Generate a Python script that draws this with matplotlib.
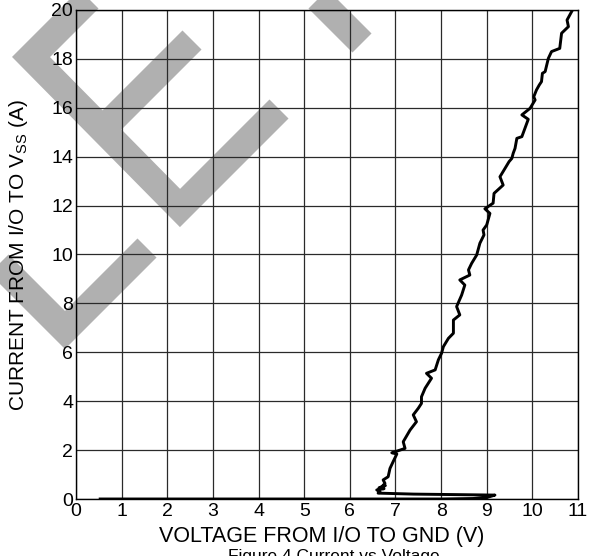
import matplotlib
matplotlib.use("Agg")
import matplotlib.pyplot as plt
from matplotlib.lines import Line2D

plt.rcParams['font.family'] = ['Liberation Sans', 'DejaVu Sans']

# I/O to GND voltage (V) vs current into Vss (A)
volts = [0.53, 3.0, 6.0, 8.0, 8.7, 9.0, 9.18, 8.3, 7.4, 6.62,
         6.66, 6.59, 6.75, 6.64, 6.78, 6.70, 6.77, 6.73, 6.84, 6.88,
         6.95, 7.03, 6.92, 7.10, 7.21, 7.17, 7.32, 7.46, 7.39, 7.50,
         7.57, 7.57, 7.65, 7.79, 7.68, 7.87, 7.94, 8.01, 8.05, 8.16,
         8.27, 8.27, 8.41, 8.34, 8.45, 8.52, 8.41, 8.63, 8.60, 8.67,
         8.78, 8.85, 8.94, 8.92, 9.00, 9.07, 8.96, 9.14, 9.16, 9.36,
         9.29, 9.40, 9.49, 9.55, 9.58, 9.62, 9.66, 9.77, 9.91, 9.77,
         9.95, 10.06, 10.03, 10.09, 10.15, 10.20, 10.22, 10.28, 10.35, 10.42,
         10.60, 10.64, 10.79, 10.76, 10.90]
amps = [0.0, 0.0, 0.0, 0.0, 0.02, 0.06, 0.16, 0.18, 0.2, 0.24,
        0.30, 0.37, 0.42, 0.46, 0.55, 0.50, 0.64, 0.78, 0.91, 1.25,
        1.53, 1.84, 1.89, 2.00, 2.07, 2.34, 2.82, 3.16, 3.44, 3.71,
        3.91, 4.18, 4.53, 4.94, 5.14, 5.28, 5.69, 5.96, 6.23, 6.57,
        6.78, 7.32, 7.53, 7.87, 8.34, 8.75, 8.96, 9.16, 9.37, 9.64,
        9.98, 10.46, 10.80, 11.00, 11.21, 11.68, 11.87, 12.10, 12.50, 12.84,
        13.18, 13.52, 13.80, 13.93, 14.14, 14.34, 14.75, 14.82, 15.53, 15.71,
        15.98, 16.32, 16.45, 16.73, 16.93, 17.07, 17.41, 17.48, 18.02, 18.30,
        18.43, 19.05, 19.32, 19.59, 20.07]

xticks = list(range(0, 12))
yticks = list(range(0, 21, 2))

W, H = 593, 556
fig = plt.figure(figsize=(W / 100, H / 100), dpi=100)

# grey watermark strokes (figure pixel coords, y from top)
wm = [
    [(101, -13), (31, 57), (180, 208), (279, 109)],
    [(102, 130), (192, 40)],
    [(300, -19), (362, 43)],
    [(-25, 240), (65, 330), (147, 248)],
]
for path in wm:
    xs = [p[0] / W for p in path]
    ys = [1 - p[1] / H for p in path]
    fig.add_artist(Line2D(xs, ys, transform=fig.transFigure, lw=19.4,
                          color='#b0b0b0', solid_joinstyle='miter',
                          solid_capstyle='butt', zorder=0))

ax = fig.add_axes([76 / W, 1 - 499 / H, 502 / W, 489 / H])
ax.patch.set_alpha(0)
ax.set_zorder(1)

ax.plot(volts, amps, color='black', lw=2.1, solid_joinstyle='round', zorder=3)

ax.set_xlim(0, 11)
ax.set_ylim(0, 20)
ax.set_xticks(xticks)
ax.set_yticks(yticks)
ax.grid(True, color='#2a2a2a', lw=0.9)
ax.tick_params(length=0, labelsize=14, colors='black')
ax.tick_params(axis='x', pad=3)
ax.tick_params(axis='y', pad=2)
for s in ax.spines.values():
    s.set_color('black')
    s.set_linewidth(1.0)

ax.set_xlabel("VOLTAGE FROM I/O TO GND (V)", fontsize=15.5, va='center')
ax.xaxis.set_label_coords(0.489, -0.0777)
ax.set_ylabel(r"CURRENT FROM I/O TO V$_{\mathregular{SS}}$ (A)", fontsize=15, va='center')
ax.yaxis.set_label_coords(-0.1155, 0.5)

# caption sits mostly below the bottom edge, as in the source scan
fig.text(228 / W, 1 - 549 / H, "Figure 4 Current vs Voltage", fontsize=12.5,
         ha='left', va='top')

plt.savefig("out.png", dpi=100)
